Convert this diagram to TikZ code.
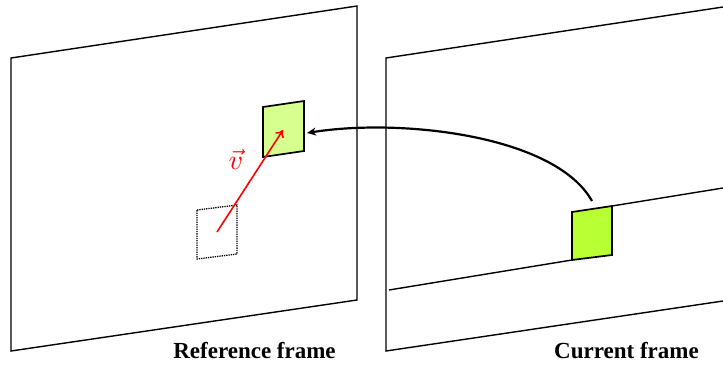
\documentclass[tikz,border=0pt]{standalone}
\usepackage{fontspec}
\setmainfont{Liberation Serif}
\usetikzlibrary{arrows.meta}
\definecolor{patchlight}{HTML}{D7FF8F}
\definecolor{patchdark}{HTML}{B8FF33}

\begin{document}
\begin{tikzpicture}[x=1pt,y=-1pt,
  frame/.style={draw=black,line width=1.4pt},
  patch/.style={draw=black,line width=1.7pt},
  lbl/.style={font=\fontsize{23}{26}\selectfont\bfseries,anchor=base},
  flow/.style={-{Stealth[length=9pt,width=8pt]},line width=2.2pt},
  motion/.style={-{To[length=7pt,width=10pt]},red,line width=1.6pt}]
  \useasboundingbox (0,0) rectangle (723,365);
  % reference frame
  \draw[frame] (11,58) -- (357,6) -- (357,300) -- (11,351) -- cycle;
  \draw[patch,fill=patchlight] (263,107) -- (304,101) -- (304,151) -- (263,157) -- cycle;
  \draw[densely dotted,line width=1.3pt] (197,210) -- (237,205) -- (237,254) -- (197,259) -- cycle;
  \coordinate (vstart) at (217,232); \coordinate (vend) at (283,130);
  \draw[motion] (vstart) -- (vend);
  \node[red,scale=2.8] (vlbl) at (236,159) {$\vec{v}$};
  \node[lbl] (reflbl) at (254.5,358) {Reference frame};
  % current frame
  \draw[frame] (723,7) -- (386,58) -- (386,351) -- (723,301);
  \draw[frame] (389,290) -- (572,260) (612,206) -- (723,188);
  \draw[patch,fill=patchdark] (572,212) -- (612,206) -- (612,255) -- (572,260) -- cycle;
  \node[lbl] (curlbl) at (626.5,358) {Current frame};
  \coordinate (curpatch) at (592,201); \coordinate (refpatch) at (307,133);
  \draw[flow] (curpatch) .. controls (555,135) and (400,118) .. (refpatch);
\end{tikzpicture}
\end{document}
